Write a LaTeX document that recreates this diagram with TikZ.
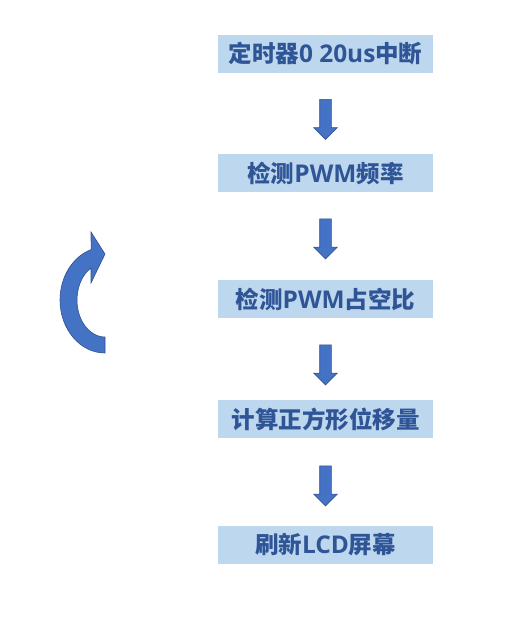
\documentclass[tikz,border=0pt]{standalone}
\usepackage{fontspec}
\setmainfont{Noto Sans CJK SC}
\newfontfamily\latinfont{Open Sans}[Scale=1.04]
\newcommand{\lat}[1]{{\latinfont\bfseries #1}}
\usepackage{tikz}
\usetikzlibrary{positioning, calc, shapes.arrows}
\usepackage{xcolor}
\definecolor{boxfill}{HTML}{BDD7EE}
\definecolor{boxtext}{HTML}{2F5597}
\definecolor{arrowfill}{HTML}{4472C4}
\definecolor{arrowline}{HTML}{2F528F}

\begin{document}
\begin{tikzpicture}[x=1pt, y=-1pt,
      stepbox/.style={fill=boxfill, text=boxtext, minimum width=215pt, minimum height=38pt,
        inner sep=0pt, font=\fontsize{23.5pt}{26pt}\selectfont\bfseries},
      blockarrow/.style={single arrow, draw=arrowline, fill=arrowfill, line width=0.6pt,
        inner xsep=0pt, inner ysep=5.5pt, minimum height=40pt, single arrow head extend=6pt,
        rotate=-90}
    ]
      \useasboundingbox (0,0) rectangle (515,628);

      \node[stepbox] (T0) at (325.5,54) {定时器\lat{0 20us}中断};
      \node[stepbox] (F) at (325.5,173) {检测\lat{PWM}频率};
      \node[stepbox] (D) at (325.5,299) {检测\lat{PWM}占空比};
      \node[stepbox] (S) at (325.5,419) {计算正方形位移量};
      \node[stepbox] (L) at (325.5,545) {刷新\lat{LCD}屏幕};

      \node[blockarrow] (a1) at ($(T0.south)!0.5!(F.north)+(0,3)$) {};
      \node[blockarrow] (a2) at ($(F.south)!0.5!(D.north)$) {};
      \node[blockarrow] (a3) at ($(D.south)!0.5!(S.north)+(0,3)$) {};
      \node[blockarrow] (a4) at ($(S.south)!0.5!(L.north)+(0,1)$) {};

      % loop back arrow
      \fill[arrowfill, draw=arrowline, line width=0.6pt]
        (105,353) arc[start angle=90, end angle=252, x radius=45, y radius=53]
        -- (91,232) -- (105,254) -- (91,283) -- (91,268)
        arc[start angle=240, end angle=90, x radius=28, y radius=37] -- cycle;
    \end{tikzpicture}
\end{document}
